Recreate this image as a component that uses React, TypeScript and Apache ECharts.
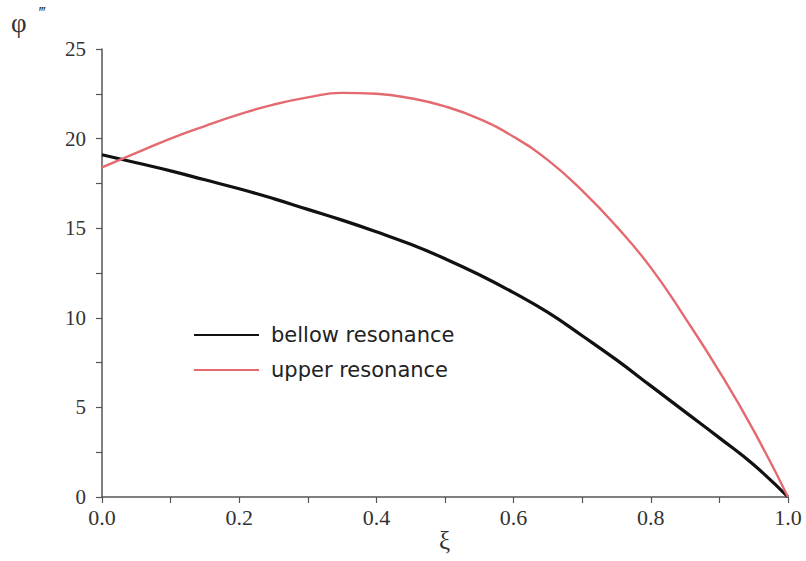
import React, { useEffect, useRef } from "react";
import * as echarts from "echarts";

const xi = [0, 0.05, 0.1, 0.15, 0.2, 0.25, 0.3, 0.35, 0.4, 0.45, 0.5, 0.55, 0.6, 0.65, 0.7, 0.75, 0.8, 0.85, 0.9, 0.95, 1.0];
const bellow = [19.1, 18.65, 18.2, 17.7, 17.2, 16.65, 16.05, 15.45, 14.8, 14.1, 13.3, 12.4, 11.4, 10.3, 9.0, 7.65, 6.2, 4.75, 3.3, 1.8, 0];
const upper = [18.4, 19.2, 20.0, 20.7, 21.35, 21.9, 22.3, 22.55, 22.5, 22.25, 21.8, 21.1, 20.1, 18.8, 17.1, 15.1, 12.8, 10.0, 7.0, 3.7, 0];
const seriesNames = ["bellow resonance", "upper resonance"];
const xTicks = { min: 0, max: 1, interval: 0.2 };
const yTicks = { min: 0, max: 25, interval: 5 };

export default function App() {
  const ref = useRef<HTMLDivElement>(null);
  useEffect(() => {
    if (!ref.current) return;
    const chart = echarts.init(ref.current, null, { renderer: "svg" });
    const serif = "Liberation Serif";
    const axisCommon = {
      axisLine: { show: true, lineStyle: { color: "#555", width: 1.5 } },
      axisTick: { show: true, length: 6, lineStyle: { color: "#555", width: 1.2 } },
      minorTick: { show: true, splitNumber: 2, length: 6, lineStyle: { color: "#555", width: 1.2 } },
      splitLine: { show: false },
    };
    chart.setOption({
      animation: false,
      backgroundColor: "#fff",
      textStyle: { fontFamily: serif },
      grid: { left: 102, right: 18, top: 49, bottom: 64, containLabel: false },
      xAxis: {
        type: "value",
        ...xTicks,
        ...axisCommon,
        axisLabel: { fontFamily: serif, fontSize: 22, color: "#333", margin: 9, formatter: (v: number) => v.toFixed(1) },
      },
      yAxis: {
        type: "value",
        ...yTicks,
        ...axisCommon,
        axisLabel: { fontFamily: serif, fontSize: 21, color: "#333", margin: 16 },
      },
      legend: {
        orient: "vertical",
        left: 193,
        top: 324,
        padding: 0,
        itemWidth: 65,
        itemHeight: 14,
        itemGap: 13,
        textStyle: {
          fontFamily: "DejaVu Sans",
          fontSize: 21,
          lineHeight: 22,
          color: "#222",
          padding: [0, 0, 0, 7],
        },
        data: [
          { name: seriesNames[0], itemStyle: { opacity: 0 } },
          { name: seriesNames[1], itemStyle: { opacity: 0 } },
        ],
      },
      graphic: [
        { type: "text", left: 11, top: 9, style: { text: "φ", font: "27px 'Liberation Serif'", fill: "#333" } },
        { type: "text", left: 39, top: 4, style: { text: "‴", font: "16px 'Liberation Serif'", fill: "#333" } },
        { type: "text", left: 439, top: 528, style: { text: "ξ", font: "25px 'Liberation Serif'", fill: "#333" } },
      ],
      series: [
        {
          name: seriesNames[0],
          type: "line",
          smooth: true,
          symbol: "none",
          data: xi.map((x, i) => [x, bellow[i]]),
          lineStyle: { color: "#111", width: 3.2 },
          itemStyle: { color: "#111" },
          z: 2,
        },
        {
          name: seriesNames[1],
          type: "line",
          smooth: true,
          symbol: "none",
          data: xi.map((x, i) => [x, upper[i]]),
          lineStyle: { color: "#e46a70", width: 2.4 },
          itemStyle: { color: "#e46a70" },
          z: 3,
        },
      ],
    });
    return () => chart.dispose();
  }, []);
  return <div ref={ref} style={{ position: "absolute", left: 0, top: 0, width: 806, height: 561 }} />;
}
